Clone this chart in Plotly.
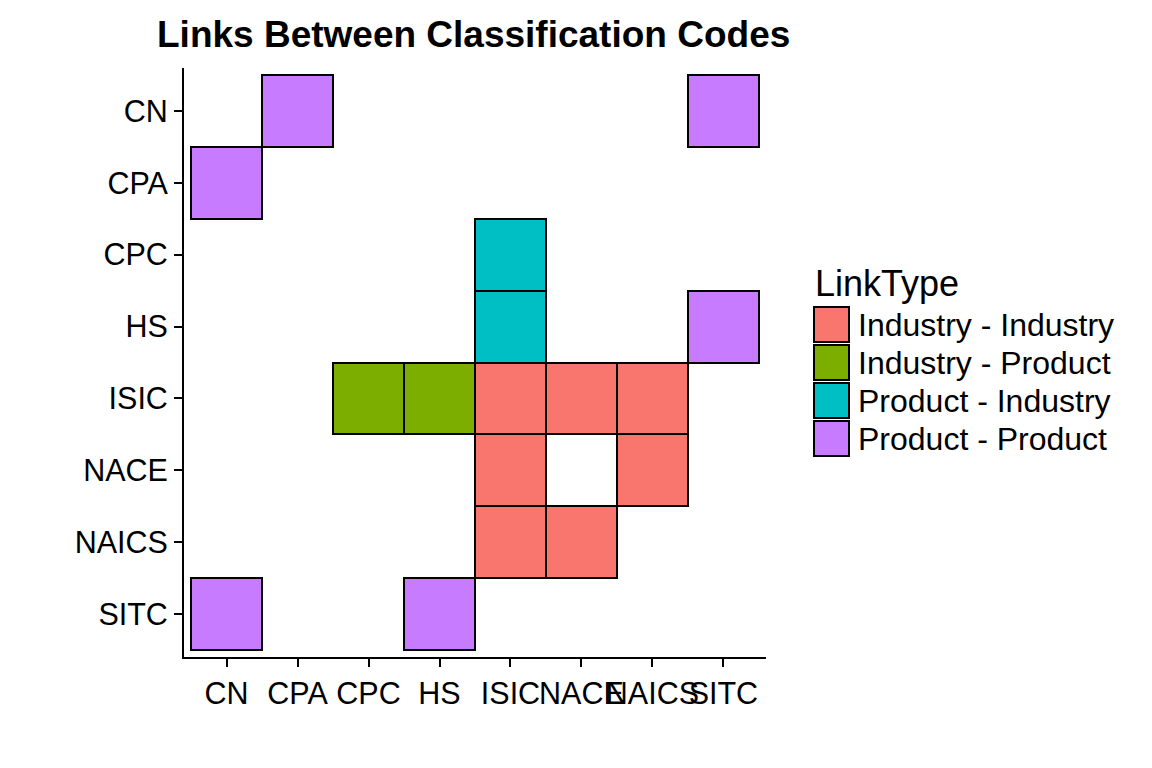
import plotly.graph_objects as go

codes = ["CN", "CPA", "CPC", "HS", "ISIC", "NACE", "NAICS", "SITC"]
link_types = ["Industry - Industry", "Industry - Product", "Product - Industry", "Product - Product"]
colors = ["#F8766D", "#7CAE00", "#00BFC4", "#C77CFF"]

# (from code on x, to code on y, link type)
link_x = ["CPA", "SITC", "CN", "ISIC", "ISIC", "SITC", "CPC", "HS", "ISIC", "NACE", "NAICS",
          "ISIC", "NAICS", "ISIC", "NACE", "CN", "HS"]
link_y = ["CN", "CN", "CPA", "CPC", "HS", "HS", "ISIC", "ISIC", "ISIC", "ISIC", "ISIC",
          "NACE", "NACE", "NAICS", "NAICS", "SITC", "SITC"]
link_t = ["Product - Product", "Product - Product", "Product - Product",
          "Product - Industry", "Product - Industry", "Product - Product",
          "Industry - Product", "Industry - Product",
          "Industry - Industry", "Industry - Industry", "Industry - Industry",
          "Industry - Industry", "Industry - Industry",
          "Industry - Industry", "Industry - Industry",
          "Product - Product", "Product - Product"]

FONT = "Liberation Sans, Arial, Helvetica, sans-serif"
W, H = 1152, 768
L, R, T, B = 184, 766, 68, 657

fig = go.Figure()
for lt, col in zip(link_types, colors):
    xs = [x for x, t in zip(link_x, link_t) if t == lt]
    ys = [codes.index(y) - 0.5 for y, t in zip(link_y, link_t) if t == lt]
    fig.add_trace(go.Bar(
        x=xs, y=[1] * len(xs), base=ys, width=1, name=lt,
        marker=dict(color=col, line=dict(color="black", width=2)),
        showlegend=False, hoverinfo="x+name",
    ))

def px_x(p):
    return (p - L) / (R - L)

def px_y(p):
    return (B - p) / (B - T)

shapes = []
annotations = []
# manual legend (ggplot style keys)
annotations.append(dict(text="LinkType", x=px_x(813), y=px_y(283), xref="paper", yref="paper",
                        xanchor="left", yanchor="middle", showarrow=False,
                        font=dict(family=FONT, size=36, color="black")))
for i, (lt, col) in enumerate(zip(link_types, colors)):
    top = 306 + i * 38
    shapes.append(dict(type="rect", xref="paper", yref="paper",
                       x0=px_x(814), x1=px_x(849), y0=px_y(top + 1), y1=px_y(top + 36),
                       fillcolor=col, line=dict(color="black", width=2)))
    annotations.append(dict(text=lt, x=px_x(856), y=px_y(top + 19), xref="paper", yref="paper",
                            xanchor="left", yanchor="middle", showarrow=False,
                            font=dict(family=FONT, size=32, color="black")))

fig.update_layout(
    width=W, height=H,
    margin=dict(l=L, r=W - R, t=T, b=H - B, pad=0),
    paper_bgcolor="white", plot_bgcolor="white",
    barmode="overlay", bargap=0,
    title=dict(text="Links Between Classification Codes", x=157 / W, xref="container",
               xanchor="left", y=1 - 34 / H, yref="container", yanchor="middle",
               font=dict(family=FONT, size=37, color="black", weight="bold")),
    xaxis=dict(type="category", categoryorder="array", categoryarray=codes,
               range=[-0.6, 7.6], showgrid=False, zeroline=False,
               showline=True, linecolor="black", linewidth=2,
               ticks="outside", ticklen=8, tickwidth=2, tickcolor="black",
               tickangle=0, automargin=False,
               tickfont=dict(family=FONT, size=30.5, color="black")),
    yaxis=dict(range=[7.6, -0.6], tickmode="array", tickvals=list(range(len(codes))),
               ticktext=codes, showgrid=False, zeroline=False,
               showline=True, linecolor="black", linewidth=2,
               ticks="outside", ticklen=8, tickwidth=2, tickcolor="black",
               automargin=False,
               tickfont=dict(family=FONT, size=30.5, color="black")),
    shapes=shapes, annotations=annotations,
    showlegend=False,
)

fig.write_html("out.html", config={"displayModeBar": False},
               post_script="document.body.style.margin='0';")
